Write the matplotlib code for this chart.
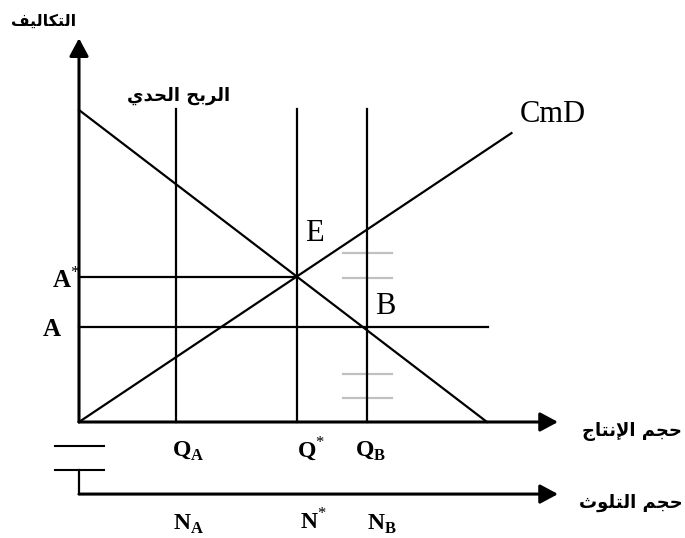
import matplotlib
matplotlib.use("Agg")
import matplotlib.pyplot as plt

plt.rcParams['mathtext.fontset'] = 'custom'
plt.rcParams['mathtext.rm'] = 'Liberation Serif'
plt.rcParams['mathtext.bf'] = 'Liberation Serif:bold'

# schematic values (output on x, cost on y)
mp_x = [0, 10]          # marginal profit line
mp_y = [10, 0]
cmd_x = [0, 10.6]       # marginal damage cost line
cmd_y = [0, 9.26]
q_a = 2.38
q_star = 5.35
q_b = 7.06
a_star = 4.66
a_level = 3.05
v_top = 10.03           # top of the vertical guide lines
a_end = 10.02
gray_levels = [5.42, 4.62, 1.54, 0.77]
gray_x = [6.47, 7.67]
n_axis = -2.31          # pollution axis
stub_levels = [-0.77, -1.54]
stub_x = [-0.59, 0.61]
x_tip = 11.74
y_tip = 12.3

ylabel = "التكاليف"
mp_label = "الربح الحدي"
x1_label = "حجم الإنتاج"
x2_label = "حجم التلوث"

# minimal arabic shaping (matplotlib has no text shaping)
AR = {
    'ا': (0xFE8D, 0xFE8E), 'إ': (0xFE87, 0xFE88), 'د': (0xFEA9, 0xFEAA),
    'ر': (0xFEAD, 0xFEAE), 'و': (0xFEED, 0xFEEE),
    'لا': (0xFEFB, 0xFEFC), 'لإ': (0xFEF9, 0xFEFA),
    'ب': (0xFE8F, 0xFE90, 0xFE91, 0xFE92), 'ت': (0xFE95, 0xFE96, 0xFE97, 0xFE98),
    'ث': (0xFE99, 0xFE9A, 0xFE9B, 0xFE9C), 'ج': (0xFE9D, 0xFE9E, 0xFE9F, 0xFEA0),
    'ح': (0xFEA1, 0xFEA2, 0xFEA3, 0xFEA4), 'ف': (0xFED1, 0xFED2, 0xFED3, 0xFED4),
    'ك': (0xFED9, 0xFEDA, 0xFEDB, 0xFEDC), 'ل': (0xFEDD, 0xFEDE, 0xFEDF, 0xFEE0),
    'م': (0xFEE1, 0xFEE2, 0xFEE3, 0xFEE4), 'ن': (0xFEE5, 0xFEE6, 0xFEE7, 0xFEE8),
    'ي': (0xFEF1, 0xFEF2, 0xFEF3, 0xFEF4),
}


def shape(s):
    toks = []
    i = 0
    while i < len(s):
        if s[i:i + 2] in AR:
            toks.append(s[i:i + 2])
            i += 2
        else:
            toks.append(s[i])
            i += 1
    out = []
    for k, t in enumerate(toks):
        f = AR.get(t)
        if f is None:
            out.append(t)
            continue
        prev = AR.get(toks[k - 1]) if k > 0 else None
        nxt = AR.get(toks[k + 1]) if k + 1 < len(toks) else None
        jp = prev is not None and len(prev) == 4
        jn = nxt is not None and len(f) == 4
        idx = (3 if jp else 2) if jn else (1 if jp else 0)
        out.append(chr(f[idx]))
    return ''.join(reversed(out))


fig = plt.figure(figsize=(6.85, 5.38), dpi=100)
ax = fig.add_axes([0, 0, 1, 1])
ax.set_xlim(-79 / 40.8, 606 / 40.8)
ax.set_ylim(-116 / 31.2, 422 / 31.2)
ax.axis('off')

arrow = dict(arrowstyle='-|>,head_length=0.54,head_width=0.29', mutation_scale=20,
             lw=2.2, color='black', shrinkA=0, shrinkB=0)
ax.annotate('', xy=(0, y_tip), xytext=(0, 0), arrowprops=arrow)
ax.annotate('', xy=(x_tip, 0), xytext=(0, 0), arrowprops=arrow)
ax.annotate('', xy=(x_tip, n_axis), xytext=(0, n_axis), arrowprops=arrow)
ax.plot([0, 0], [stub_levels[1], n_axis], color='black', lw=1.6)
for lv in stub_levels:
    ax.plot(stub_x, [lv, lv], color='black', lw=1.5)

for lv in gray_levels:
    ax.plot(gray_x, [lv, lv], color='#c0c0c0', lw=1.6)

ax.plot(mp_x, mp_y, color='black', lw=1.6)
ax.plot(cmd_x, cmd_y, color='black', lw=1.6)
for q in [q_a, q_star, q_b]:
    ax.plot([q, q], [0, v_top], color='black', lw=1.6)
ax.plot([0, q_star], [a_star, a_star], color='black', lw=1.6)
ax.plot([0, a_end], [a_level, a_level], color='black', lw=1.6)

serif = 'Liberation Serif'
ax.text(11.62, 9.84, 'CmD', family=serif, fontsize=22, ha='center', va='center')
ax.text(5.78, 6.03, 'E', family=serif, fontsize=22, ha='center', va='center')
ax.text(7.5, 3.69, 'B', family=serif, fontsize=22, ha='center', va='center')

ax.text(-0.66, 4.29, r'$\mathbf{A}^{*}$', fontsize=18, ha='left', va='baseline')
ax.text(-0.91, 2.76, r'$\mathbf{A}$', fontsize=18, ha='left', va='baseline')

for x, s in [(2.28, r'$\mathbf{Q}_{\mathbf{A}}$'), (5.34, r'$\mathbf{Q}^{*}$'), (6.76, r'$\mathbf{Q}_{\mathbf{B}}$')]:
    ax.text(x, -1.12, s, fontsize=17, ha='left', va='baseline')
for x, s in [(2.30, r'$\mathbf{N}_{\mathbf{A}}$'), (5.42, r'$\mathbf{N}^{*}$'), (7.06, r'$\mathbf{N}_{\mathbf{B}}$')]:
    ax.text(x, -3.46, s, fontsize=17, ha='left', va='baseline')

ar = dict(family='DejaVu Sans', fontweight='bold', ha='center', va='center')
ax.text(-0.86, 12.85, shape(ylabel), fontsize=11.5, **ar)
ax.text(2.43, 10.45, shape(mp_label), fontsize=13, **ar)
ax.text(13.55, -0.32, shape(x1_label), fontsize=13, **ar)
ax.text(13.53, -2.6, shape(x2_label), fontsize=13, **ar)

fig.savefig('out.png', dpi=100)
